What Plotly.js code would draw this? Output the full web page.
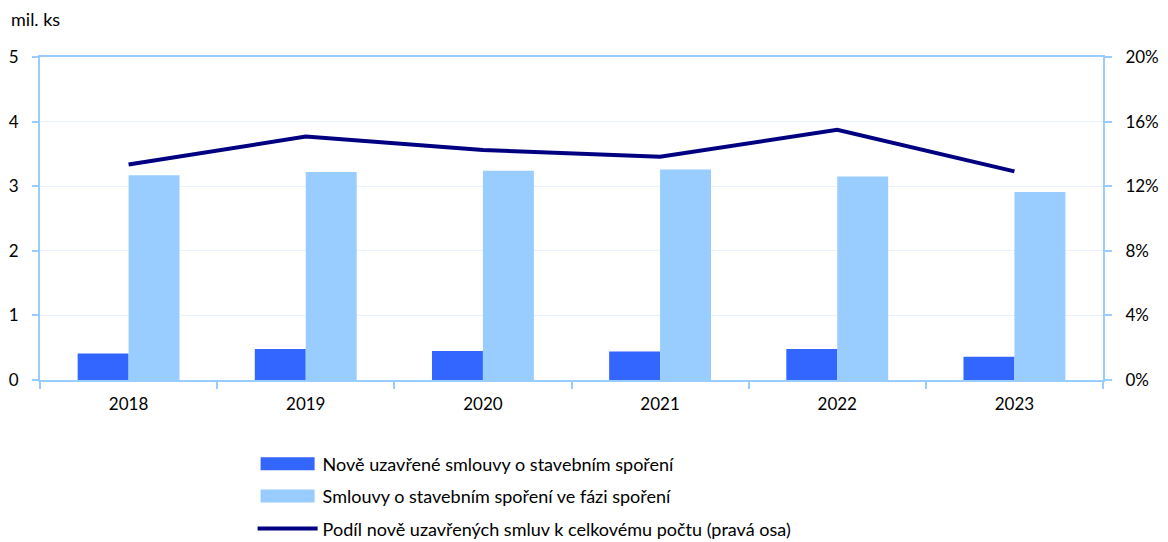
<!DOCTYPE html>
<html>
<head>
<meta charset="utf-8">
<script src="https://cdn.plot.ly/plotly-3.0.1.min.js"></script>
<style>html,body{margin:0;padding:0;background:#fff;}#chart{width:1168px;height:542px;}</style>
</head>
<body>
<div id="chart"></div>
<script>
const years = ['2018', '2019', '2020', '2021', '2022', '2023'];
const newContracts = [0.41, 0.48, 0.45, 0.44, 0.48, 0.36];
const savingContracts = [3.17, 3.22, 3.24, 3.26, 3.15, 2.91];
const sharePct = [0.1335, 0.1507, 0.1424, 0.1383, 0.1549, 0.1292];
const seriesNames = [
  'Nově uzavřené smlouvy o stavebním spoření',
  'Smlouvy o stavebním spoření ve fázi spoření',
  'Podíl nově uzavřených smluv k celkovému počtu (pravá osa)'
];

const axisColor = '#99CCFF';
const fam = 'Lato, "Open Sans", sans-serif';
const font = {family: fam, size: 17, color: '#000'};

const traces = [
  {type: 'bar', x: years, y: newContracts, name: seriesNames[0], marker: {color: '#3366FF'}, legendgroup: 'a', hoverinfo: 'none'},
  {type: 'bar', x: years, y: savingContracts, name: seriesNames[1], marker: {color: '#99CCFF'}, legendgroup: 'b', hoverinfo: 'none'},
  {type: 'scatter', mode: 'lines', x: years, y: sharePct, yaxis: 'y2', name: seriesNames[2], line: {color: '#000080', width: 4}, legendgroup: 'c', hoverinfo: 'none'}
];

const layout = {
  width: 1168, height: 542,
  margin: {l: 40, r: 65, t: 57, b: 161.5},
  paper_bgcolor: '#fff', plot_bgcolor: '#fff',
  font: font,
  barmode: 'group',
  bargap: 0.425,
  bargroupgap: 0,
  showlegend: true,
  legend: {x: 0.2, xref: 'paper', y: 0.178, yref: 'container', xanchor: 'left', yanchor: 'top', orientation: 'v', traceorder: 'grouped', tracegroupgap: 6, font: {family: fam, size: 18, color: '#000'}, itemwidth: 60, bgcolor: 'rgba(0,0,0,0)'},
  xaxis: {
    type: 'category', showline: true, linecolor: axisColor, linewidth: 2, mirror: true,
    ticks: 'outside', tickson: 'boundaries', ticklen: 7, tickcolor: axisColor, tickwidth: 2,
    ticklabelstandoff: 8,
    showgrid: false, tickfont: font, fixedrange: true
  },
  yaxis: {
    range: [0, 5], dtick: 1, showline: true, linecolor: axisColor, linewidth: 2,
    ticks: 'outside', ticklen: 6, tickcolor: axisColor, tickwidth: 2,
    ticklabelstandoff: 10,
    showgrid: true, gridcolor: '#E6F2FF', gridwidth: 1, zeroline: false, tickfont: font
  },
  yaxis2: {
    range: [0, 0.2], dtick: 0.04, tickformat: '.0%', overlaying: 'y', side: 'right',
    showline: true, linecolor: axisColor, linewidth: 2,
    ticks: 'outside', ticklen: 7, tickcolor: axisColor, tickwidth: 2,
    ticklabelstandoff: 10,
    showgrid: false, zeroline: false, tickfont: font
  },
  annotations: [
    {text: 'mil. ks', xref: 'paper', yref: 'paper', x: -0.029, y: 1.078, xanchor: 'left', yanchor: 'bottom', showarrow: false, font: {family: fam, size: 18, color: '#000'}}
  ]
};

function widenBarSymbols() {
  const groups = document.querySelectorAll('#chart .legend .traces');
  groups.forEach((g, i) => {
    if (i > 1) return;
    g.querySelectorAll('.legendpoints path').forEach(p => {
      p.setAttribute('d', 'M27,6.5H-27V-6.5H27Z');
    });
  });
}

Plotly.newPlot('chart', traces, layout, {staticPlot: true}).then(gd => {
  widenBarSymbols();
  gd.on('plotly_afterplot', widenBarSymbols);
});
</script>
</body>
</html>
